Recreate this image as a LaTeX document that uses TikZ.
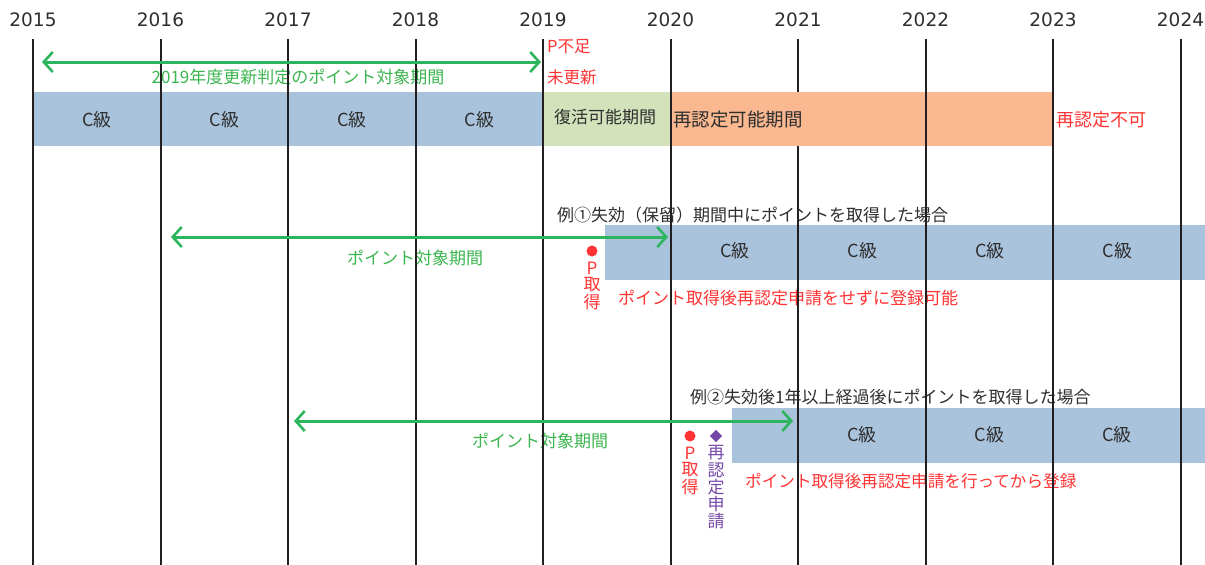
\documentclass[tikz,border=0pt]{standalone}
\usepackage{fontspec}
\setmainfont{Noto Sans CJK JP}
\newfontfamily\yearfont{DejaVu Sans}
\usetikzlibrary{arrows.meta,shapes.geometric}
\definecolor{barblue}{HTML}{A9C3DD}
\definecolor{bargreen}{HTML}{D4E2BB}
\definecolor{barorange}{HTML}{F9B88F}
\definecolor{arrgreen}{HTML}{2DB55D}
\definecolor{lblgreen}{HTML}{3CB54F}
\definecolor{notered}{HTML}{FF3333}
\definecolor{notepurple}{HTML}{7548A6}
\definecolor{gridline}{HTML}{231F20}
\definecolor{txt}{HTML}{2E2E2E}
\tikzset{
  bar/.style={draw=none, inner sep=0pt, text=txt, font=\fontsize{18}{18}\selectfont},
  yearlbl/.style={text=txt, font=\yearfont\fontsize{18.5}{18.5}\selectfont, inner sep=0pt},
  grid/.style={draw=gridline, line width=2pt},
  period/.style={draw=arrgreen, line width=3pt, arrows={Straight Barb[length=9pt,width=20pt,line width=2.6pt]-Straight Barb[length=9pt,width=20pt,line width=2.6pt]}},
  greenlbl/.style={text=lblgreen, font=\fontsize{17}{17}\selectfont, inner sep=0pt},
  rednote/.style={text=notered, font=\fontsize{17}{17}\selectfont, inner sep=0pt},
  title/.style={text=txt, font=\fontsize{17}{17}\selectfont, inner sep=0pt},
  vchar/.style={font=\fontsize{17}{17}\selectfont, inner sep=0pt},
}
\begin{document}
\begin{tikzpicture}[x=1pt,y=-1pt]
\useasboundingbox (0,0) rectangle (1205,565);
% ---- top row bars
\foreach \i in {0,1,2,3} {
  \node[bar, fill=barblue, anchor=north west, minimum width=127.5pt, minimum height=54pt]
    (top\i) at ({33+127.5*\i},92) {C級};
}
\node[bar, fill=bargreen, anchor=north west, minimum width=127.5pt, minimum height=54pt] (revive) at (543,92) {};
\node[title, anchor=west] (revivelbl) at (554,117) {復活可能期間};
\node[bar, fill=barorange, anchor=north west, minimum width=382.5pt, minimum height=54pt] (recert) at (670.5,92) {};
\node[title, anchor=west, font=\fontsize{18.5}{18.5}\selectfont] (recertlbl) at (673,120) {再認定可能期間};
\node[rednote, anchor=west, font=\fontsize{18}{18}\selectfont] (norecert) at (1056,120) {再認定不可};
\node[rednote, anchor=west, font=\fontsize{16.5}{16.5}\selectfont] (pshort) at (547,47) {P不足};
\node[rednote, anchor=west, font=\fontsize{16.5}{16.5}\selectfont] (norenew) at (547,77) {未更新};
\node[greenlbl, anchor=center] (toplbl) at (298,77) {2019年度更新判定のポイント対象期間};
% ---- example 1
\node[title, anchor=west] (ex1title) at (557,215) {例①失効（保留）期間中にポイントを取得した場合};
\node[bar, fill=barblue, anchor=north west, minimum width=600pt, minimum height=55pt] (ex1bar) at (605,225) {};
\foreach \i in {0,1,2,3} {
  \node[bar] (ex1c\i) at ({735+127.5*\i},251) {C級};
}
\node[greenlbl] (ex1lbl) at (415,258) {ポイント対象期間};
\node[rednote, anchor=west] (ex1note) at (618,298) {ポイント取得後再認定申請をせずに登録可能};
\node[circle, fill=notered, inner sep=0pt, minimum size=11pt] (ex1dot) at (592,251) {};
\foreach \c [count=\k] in {P,取,得} {
  \node[vchar, text=notered] (ex1v\k) at (592,{251+17*\k}) {\c};
}
% ---- example 2
\node[title, anchor=west] (ex2title) at (690,397) {例②失効後1年以上経過後にポイントを取得した場合};
\node[bar, fill=barblue, anchor=north west, minimum width=473pt, minimum height=55pt] (ex2bar) at (732,408) {};
\foreach \i in {0,1,2} {
  \node[bar] (ex2c\i) at ({862+127.5*\i},435) {C級};
}
\node[greenlbl] (ex2lbl) at (540,441) {ポイント対象期間};
\node[rednote, anchor=west, font=\fontsize{16.6}{16.6}\selectfont] (ex2note) at (745,481) {ポイント取得後再認定申請を行ってから登録};
\node[circle, fill=notered, inner sep=0pt, minimum size=11pt] (ex2dot) at (690,436) {};
\foreach \c [count=\k] in {P,取,得} {
  \node[vchar, text=notered] (ex2v\k) at (690,{436+17*\k}) {\c};
}
\node[diamond, fill=notepurple, inner sep=0pt, minimum size=12.5pt] (ex2dia) at (716,436) {};
\foreach \c [count=\k] in {再,認,定,申,請} {
  \node[vchar, text=notepurple] (ex2w\k) at (716,{436+17*\k}) {\c};
}
% ---- year labels and grid lines
\foreach \y [count=\k from 0] in {2015,2016,2017,2018,2019,2020,2021,2022,2023,2024} {
  \node[yearlbl] (y\y) at ({33+127.5*\k},20) {\y};
  \coordinate (t\y) at ({33+127.5*\k},39);
  \coordinate (b\y) at ({33+127.5*\k},565);
}
\foreach \y in {2015,2016,2017,2018,2019,2020,2022,2023,2024} {
  \draw[grid] (t\y) -- (b\y);
}
\draw[grid] (t2021) -- (t2021 |- recert.north);
\draw[grid] (t2021 |- recert.south) -- (b2021);
% ---- period arrows
\coordinate (a1s) at (42,62);
\coordinate (a1e) at (541,62);
\draw[period] (a1s) -- (a1e);
\coordinate (a2s) at (171,237);
\coordinate (a2e) at (668,237);
\draw[period] (a2s) -- (a2e);
\coordinate (a3s) at (294,421);
\coordinate (a3e) at (793,421);
\draw[period] (a3s) -- (a3e);
\end{tikzpicture}
\end{document}
